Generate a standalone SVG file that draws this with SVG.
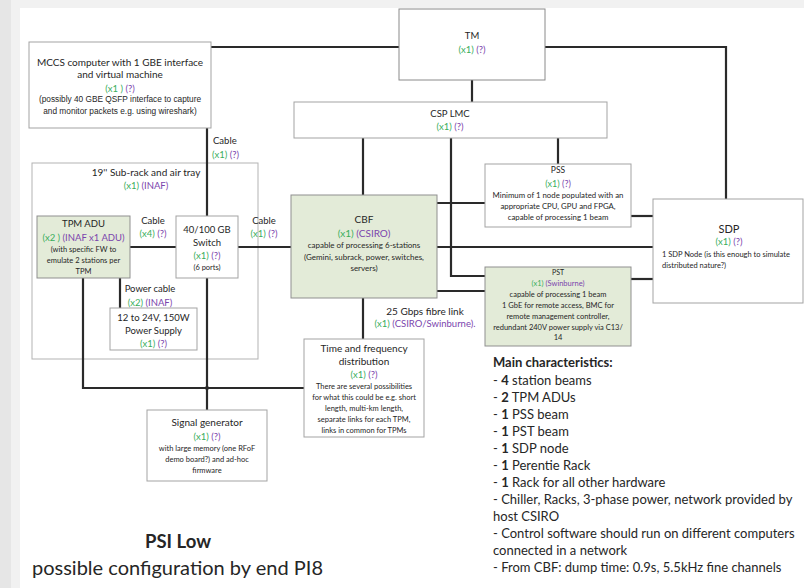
<svg xmlns="http://www.w3.org/2000/svg" width="804" height="588" viewBox="0 0 804 588">
<style>
.box{fill:#fff;stroke:#a3a3a3;stroke-width:1}
.gbox{fill:#e3ebd8;stroke:#8f8f8f;stroke-width:1}
.wire{fill:none;stroke:#2a2a2a;stroke-width:2.2}
.t{font-family:Lato,"Open Sans",sans-serif;fill:#262626;text-anchor:middle}
.a{font-family:"Liberation Sans",Arial,sans-serif;fill:#262626;text-anchor:middle}
.l{text-anchor:start}
.g{fill:#3aae5c}
.p{fill:#7b45ad}
.s10{font-size:10px}
.s95{font-size:9.5px}
.s8{font-size:8px}
.s75{font-size:7.5px}
.mc{font-family:Lato,"Open Sans",sans-serif;font-size:13px;fill:#262626}
</style>
<rect x="0" y="0" width="804" height="588" fill="#f1f1f1"/>
<rect x="0" y="0" width="11" height="588" fill="#e6e6e6"/>
<rect x="20" y="8" width="784" height="580" fill="#ffffff"/>

<g id="subrack">
<rect x="32" y="163" width="226" height="196" fill="#fff" stroke="#b3b3b3" stroke-width="1"/>
<text class="t s10" x="146" y="175.5">19'' Sub-rack and air tray</text>
<text class="t s95" x="146" y="188.5"><tspan class="g">(x1)</tspan> <tspan class="p">(INAF)</tspan></text>
</g>

<g id="connectors">
<path class="wire" d="M211,47 H399"/>
<path class="wire" d="M545,47 H726 V199"/>
<path class="wire" d="M472,80 V102"/>
<path class="wire" d="M207,128 V216"/>
<path class="wire" d="M207,278 V410"/>
<path class="wire" d="M130,247 H176"/>
<path class="wire" d="M238,247 H291"/>
<path class="wire" d="M120,278 V308"/>
<path class="wire" d="M83,278 V388 H304"/>
<path class="wire" d="M363,138 V195"/>
<path class="wire" d="M451,138 V276 H485"/>
<path class="wire" d="M558,138 V164"/>
<path class="wire" d="M437,203 H485"/>
<path class="wire" d="M437,247 H653"/>
<path class="wire" d="M437,291 H485"/>
<path class="wire" d="M631,216 H653"/>
<path class="wire" d="M631,279 H653"/>
<path class="wire" d="M363,298 V339"/>
<circle cx="207" cy="388" r="2" fill="#2a2a2a"/>
<text class="t s95 l" x="213" y="143.5">Cable</text>
<text class="t s95 l" x="212" y="157.5"><tspan class="g">(x1)</tspan> <tspan class="p">(?)</tspan></text>
<text class="t s95" x="153" y="223.5">Cable</text>
<text class="t s95" x="153" y="236.5"><tspan class="g">(x4)</tspan> <tspan class="p">(?)</tspan></text>
<text class="t s95" x="264" y="223.5">Cable</text>
<text class="t s95" x="264" y="236.5"><tspan class="g">(x1)</tspan> <tspan class="p">(?)</tspan></text>
<text class="t s95" x="150" y="291.5">Power cable</text>
<text class="t s95" x="150" y="305.5"><tspan class="g">(x2)</tspan> <tspan class="p">(INAF)</tspan></text>
<text class="t s10" x="425" y="314.5">25 Gbps fibre link</text>
<text class="t s95" x="425" y="327"><tspan class="g">(x1)</tspan> <tspan class="p">(CSIRO/Swinburne).</tspan></text>
</g>

<g id="mccs">
<rect class="box" x="29" y="42" width="182" height="86"/>
<text class="t s10" x="120" y="65.5">MCCS computer with 1 GBE interface</text>
<text class="t s10" x="120" y="77.5">and virtual machine</text>
<text class="t s95" x="120" y="91.5"><tspan class="g">(x1 )</tspan> <tspan class="p">(?)</tspan></text>
<text class="a" font-size="8.3" x="120" y="102">(possibly 40 GBE QSFP interface to capture</text>
<text class="a" font-size="8.3" x="120" y="114">and monitor packets e.g. using wireshark)</text>
</g>

<g id="tm">
<rect class="box" x="399" y="9" width="146" height="71" style="stroke:#8a8a8a"/>
<text class="t s95" x="472" y="38.5">TM</text>
<text class="t s95" x="472" y="52.5"><tspan class="g">(x1)</tspan> <tspan class="p">(?)</tspan></text>
</g>

<g id="csp-lmc">
<rect class="box" x="294" y="102" width="313" height="36"/>
<text class="t s95" x="450" y="116.5">CSP LMC</text>
<text class="t s95" x="450" y="129.5"><tspan class="g">(x1)</tspan> <tspan class="p">(?)</tspan></text>
</g>

<g id="tpm-adu">
<rect class="gbox" x="37" y="216" width="93" height="62"/>
<text class="t s95" x="83.5" y="226.5">TPM ADU</text>
<text class="t s95" x="83.5" y="240.5"><tspan class="g">(x2 )</tspan> <tspan class="p">(INAF x1 ADU)</tspan></text>
<text class="t s75" x="83.5" y="251.5">(with specific FW to</text>
<text class="t s75" x="83.5" y="262.5">emulate 2 stations per</text>
<text class="t s75" x="83.5" y="273.5">TPM</text>
</g>

<g id="switch">
<rect class="box" x="176" y="216" width="62" height="62"/>
<text class="t s95" x="207" y="232.5">40/100 GB</text>
<text class="t s95" x="207" y="245.5">Switch</text>
<text class="t s95" x="207" y="258.5"><tspan class="g">(x1)</tspan> <tspan class="p">(?)</tspan></text>
<text class="t s75" x="207" y="269.5">(6 ports)</text>
</g>

<g id="power-supply">
<rect class="box" x="110" y="308" width="87" height="42"/>
<text class="t s95" x="153.5" y="320.5">12 to 24V, 150W</text>
<text class="t s95" x="153.5" y="333.5">Power Supply</text>
<text class="t s95" x="153.5" y="346.5"><tspan class="g">(x1)</tspan> <tspan class="p">(?)</tspan></text>
</g>

<g id="cbf">
<rect class="gbox" x="291" y="195" width="146" height="103"/>
<text class="t s10" x="364" y="222.5">CBF</text>
<text class="t s10" x="364" y="236.5"><tspan class="g">(x1)</tspan> <tspan class="p">(CSIRO)</tspan></text>
<text class="t s8" x="364" y="248">capable of processing 6-stations</text>
<text class="t s8" x="364" y="260">(Gemini, subrack, power, switches,</text>
<text class="t s8" x="364" y="271">servers)</text>
</g>

<g id="pss">
<rect class="box" x="485" y="164" width="146" height="63"/>
<text class="t" font-size="8.5" x="558" y="173">PSS</text>
<text class="t" font-size="9" x="558" y="186.5"><tspan class="g">(x1)</tspan> <tspan class="p">(?)</tspan></text>
<text class="t" font-size="7.8" x="558" y="198">Minimum of 1 node populated with an</text>
<text class="t" font-size="7.8" x="558" y="209">appropriate CPU, GPU and FPGA,</text>
<text class="t" font-size="7.8" x="558" y="220">capable of processing 1 beam</text>
</g>

<g id="pst">
<rect class="gbox" x="485" y="267" width="146" height="79"/>
<text class="t" font-size="7" x="558" y="274.5">PST</text>
<text class="t s75" x="558" y="285.5"><tspan class="g">(x1)</tspan> <tspan class="p">(Swinburne)</tspan></text>
<text class="t s75" x="558" y="297">capable of processing 1 beam</text>
<text class="t s75" x="558" y="308">1 GbE for remote access, BMC for</text>
<text class="t s75" x="558" y="319">remote management controller,</text>
<text class="t s75" x="558" y="329.5">redundant 240V power supply via C13/</text>
<text class="t s75" x="558" y="340">14</text>
</g>

<g id="sdp">
<rect class="box" x="653" y="199" width="150" height="104"/>
<text class="t" font-size="11" x="729" y="233">SDP</text>
<text class="t s95" x="729" y="244.5"><tspan class="g">(x1)</tspan> <tspan class="p">(?)</tspan></text>
<text class="t s75 l" x="662" y="257">1 SDP Node (is this enough to simulate</text>
<text class="t s75 l" x="662" y="268">distributed nature?)</text>
</g>

<g id="time-freq">
<rect class="box" x="304" y="339" width="120" height="98"/>
<text class="t s10" x="364" y="351.5">Time and frequency</text>
<text class="t s10" x="364" y="364.5">distribution</text>
<text class="t s95" x="364" y="377.5"><tspan class="g">(x1)</tspan> <tspan class="p">(?)</tspan></text>
<text class="t s75" x="364" y="389">There are several possibilities</text>
<text class="t s75" x="364" y="400">for what this could be e.g. short</text>
<text class="t s75" x="364" y="410.5">length, multi-km length,</text>
<text class="t s75" x="364" y="421.5">separate links for each TPM,</text>
<text class="t s75" x="364" y="433">links in common for TPMs</text>
</g>

<g id="signal-generator">
<rect class="box" x="147" y="410" width="120" height="71"/>
<text class="t s10" x="207" y="425.5">Signal generator</text>
<text class="t s95" x="207" y="439.5"><tspan class="g">(x1)</tspan> <tspan class="p">(?)</tspan></text>
<text class="t s75" x="207" y="451">with large memory (one RFoF</text>
<text class="t s75" x="207" y="461.5">demo board?) and ad-hoc</text>
<text class="t s75" x="207" y="473">firmware</text>
</g>

<g id="main-characteristics">
<text class="mc" x="493" y="366.5" font-weight="bold" font-size="12.5">Main characteristics:</text>
<text class="mc" x="493" y="384.5">- <tspan font-weight="bold">4</tspan> station beams</text>
<text class="mc" x="493" y="401.5">- <tspan font-weight="bold">2</tspan> TPM ADUs</text>
<text class="mc" x="493" y="418.5">- <tspan font-weight="bold">1</tspan> PSS beam</text>
<text class="mc" x="493" y="435.5">- <tspan font-weight="bold">1</tspan> PST beam</text>
<text class="mc" x="493" y="452.5">- <tspan font-weight="bold">1</tspan> SDP node</text>
<text class="mc" x="493" y="469.5">- <tspan font-weight="bold">1</tspan> Perentie Rack</text>
<text class="mc" x="493" y="486.5">- <tspan font-weight="bold">1</tspan> Rack for all other hardware</text>
<text class="mc" x="493" y="503.5">- Chiller, Racks, 3-phase power, network provided by</text>
<text class="mc" x="493" y="520.5">host CSIRO</text>
<text class="mc" x="493" y="537.5">- Control software should run on different computers</text>
<text class="mc" x="493" y="554.5">connected in a network</text>
<text class="mc" x="493" y="571.5">- From CBF: dump time: 0.9s, 5.5kHz fine channels</text>
</g>

<g id="title">
<text class="t" font-size="18.5" font-weight="bold" x="178" y="548">PSI Low</text>
<text class="t l" font-size="20" x="32" y="575">possible configuration by end PI8</text>
</g>
</svg>
